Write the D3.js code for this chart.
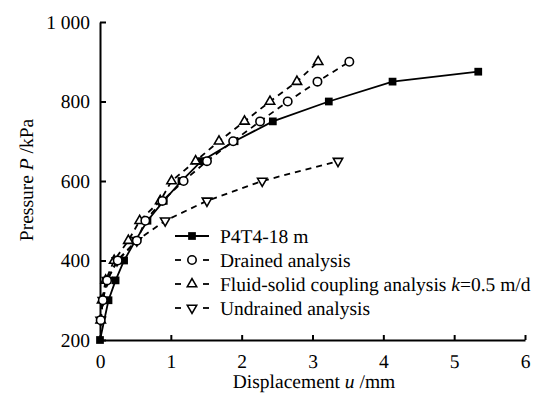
<!DOCTYPE html>
<html><head><meta charset="utf-8">
<script src="https://cdn.jsdelivr.net/npm/d3@7"></script>
<style>body{margin:0;background:#fff;-webkit-font-smoothing:antialiased}svg{display:block}text{font-family:"Liberation Serif","Times New Roman",serif;fill:#000;text-rendering:geometricPrecision}</style>
</head><body>
<script>
// Data (u in mm, P in kPa)
const seriesNames = ["P4T4-18 m","Drained analysis","Fluid-solid coupling analysis","Undrained analysis"];
const measuredU = [0,0.12,0.22,0.34,0.5,0.67,0.9,1.15,1.43,1.9,2.44,3.23,4.13,5.34];
const measuredP = [200,300,350,400,450,500,550,600,650,700,750,800,850,875];
const drainedU = [0.01,0.04,0.1,0.25,0.52,0.64,0.88,1.18,1.51,1.88,2.26,2.65,3.07,3.52];
const drainedP = [250,300,350,400,450,500,550,600,650,700,750,800,850,900];
const coupledU = [0.01,0.03,0.08,0.2,0.4,0.56,0.85,1.01,1.35,1.68,2.04,2.4,2.78,3.08];
const coupledP = [250,300,350,400,450,500,550,600,650,700,750,800,850,900];
const undrainedU = [0.01,0.04,0.1,0.24,0.52,0.92,1.51,2.29,3.36];
const undrainedP = [250,300,350,400,450,500,550,600,650];
const xTicks = [0,1,2,3,4,5,6];
const yTicks = [200,400,600,800,1000];
const yTickLabels = ["200","400","600","800","1 000"];

const W=544,H=405;
const svg=d3.select("body").append("svg").attr("width",W).attr("height",H);
const x=d3.scaleLinear().domain([0,6]).range([100,525]);
const y=d3.scaleLinear().domain([200,1000]).range([340,22]);
const FS="19.5px";

// axes
const gx=svg.append("g").attr("transform","translate(0,340)")
  .call(d3.axisBottom(x).tickValues(xTicks).tickSizeInner(-5).tickSizeOuter(0).tickPadding(12).tickFormat(d=>d));
const gy=svg.append("g").attr("transform","translate(100,0)")
  .call(d3.axisLeft(y).tickValues(yTicks).tickSizeInner(-6).tickSizeOuter(0).tickPadding(10).tickFormat((d,i)=>yTickLabels[i]));
[gx,gy].forEach(g=>{
  g.select(".domain").attr("stroke","#000").attr("stroke-width",2);
  g.selectAll(".tick line").attr("stroke","#000").attr("stroke-width",2);
  g.selectAll(".tick text").style("font-size",FS).style("font-family",'"Liberation Serif",serif').attr("fill","#000");
});
gx.selectAll(".tick text").attr("dy","0.71em").attr("y",14);

// axis titles
const xt=svg.append("text").attr("x",314).attr("y",388).attr("text-anchor","middle").attr("fill","#000").style("font-size",FS);
xt.append("tspan").text("Displacement ");
xt.append("tspan").attr("font-style","italic").text("u");
xt.append("tspan").text(" /mm");
const yt=svg.append("text").attr("transform","translate(33,180) rotate(-90)").attr("text-anchor","middle").attr("fill","#000").style("font-size",FS);
yt.append("tspan").text("Pressure ");
yt.append("tspan").attr("font-style","italic").text("P");
yt.append("tspan").text(" /kPa");

const line=d3.line().x(d=>x(d[0])).y(d=>y(d[1]));
const zip=(a,b)=>a.map((v,i)=>[v,b[i]]);
const data=[
  {pts:zip(measuredU,measuredP),dash:null,sym:"square"},
  {pts:zip(coupledU,coupledP),dash:"6,5",sym:"tri"},
  {pts:zip(undrainedU,undrainedP),dash:"6,5",sym:"tridown"},
  {pts:zip(drainedU,drainedP),dash:"6,5",sym:"circle"}
];
function marker(g,sym,cx,cy){
  if(sym==="square") g.append("path").attr("d",d3.symbol(d3.symbolSquare,60)()).attr("transform",`translate(${cx},${cy})`).attr("fill","#000");
  else if(sym==="circle") g.append("circle").attr("cx",cx).attr("cy",cy).attr("r",4.2).attr("fill","#fff").attr("stroke","#000").attr("stroke-width",1.6);
  else if(sym==="tri") g.append("path").attr("d",d3.symbol(d3.symbolTriangle,38)()).attr("transform",`translate(${cx},${cy})`).attr("fill","#fff").attr("stroke","#000").attr("stroke-width",1.6);
  else g.append("path").attr("d",d3.symbol(d3.symbolTriangle,38)()).attr("transform",`translate(${cx},${cy}) rotate(180)`).attr("fill","#fff").attr("stroke","#000").attr("stroke-width",1.6);
}
data.forEach(s=>{
  svg.append("path").attr("d",line(s.pts)).attr("fill","none").attr("stroke","#000").attr("stroke-width",1.8)
    .attr("stroke-dasharray",s.dash);
});
data.forEach(s=>{
  const g=svg.append("g");
  s.pts.forEach(p=>marker(g,s.sym,x(p[0]),y(p[1])));
});

// legend
const legSyms=["square","circle","tri","tridown"];
legSyms.forEach((sym,i)=>{
  const cy=236+24*i;
  const g=svg.append("g");
  if(sym==="square"){
    g.append("line").attr("x1",175).attr("x2",209).attr("y1",cy).attr("y2",cy).attr("stroke","#000").attr("stroke-width",1.8);
  } else {
    g.append("line").attr("x1",175).attr("x2",181).attr("y1",cy).attr("y2",cy).attr("stroke","#000").attr("stroke-width",1.8);
    g.append("line").attr("x1",203).attr("x2",209).attr("y1",cy).attr("y2",cy).attr("stroke","#000").attr("stroke-width",1.8);
  }
  marker(g,sym,192,cy);
  const t=svg.append("text").attr("x",220).attr("y",cy+7).attr("fill","#000").style("font-size",FS);
  if(i===2){
    t.append("tspan").text("Fluid-solid coupling analysis ");
    t.append("tspan").attr("font-style","italic").text("k");
    t.append("tspan").text("=0.5 m/d");
  } else t.text(seriesNames[i]);
});
</script>
</body></html>
